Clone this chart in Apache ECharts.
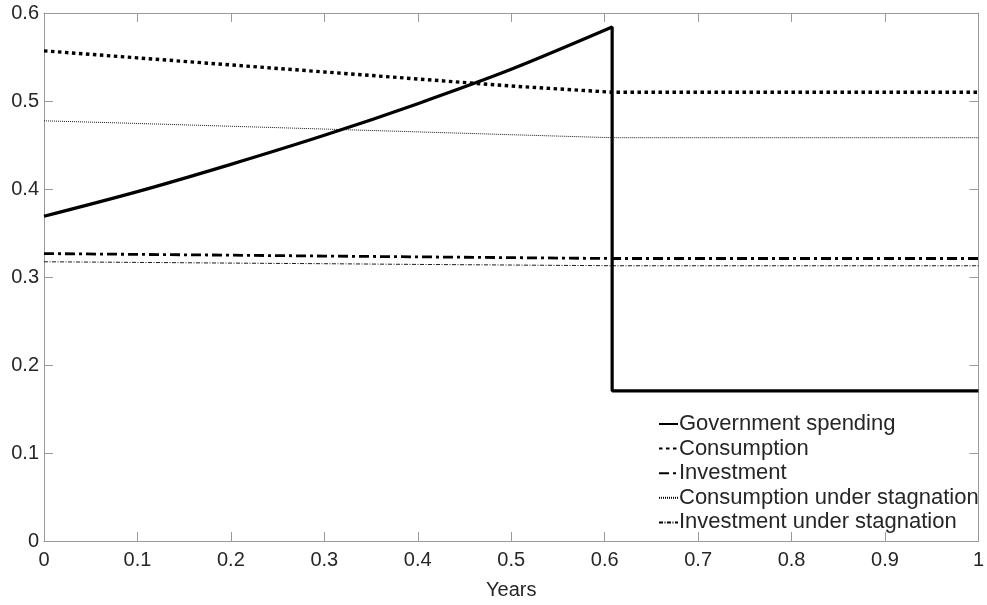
<!DOCTYPE html>
<html><head><meta charset="utf-8">
<script src="https://cdn.jsdelivr.net/npm/echarts@6/dist/echarts.min.js"></script>
<style>html,body{margin:0;padding:0;background:#fff}#c{width:987px;height:605px}</style>
</head><body><div id="c"></div>
<script>
const seriesNames = ['Government spending','Consumption','Investment','Consumption under stagnation','Investment under stagnation'];
const xBefore = [0, 0.1, 0.2, 0.3, 0.4, 0.5, 0.608];
const govBefore = [0.369, 0.397, 0.428, 0.461, 0.497, 0.536, 0.584];
const govAfterX = [0.608, 1];
const govAfter = [0.1706, 0.1706];
const consBefore = [0.557, 0.549, 0.541, 0.533, 0.525, 0.517, 0.510];
const invBefore = [0.3266, 0.3257, 0.3248, 0.3238, 0.3229, 0.3220, 0.3210];
const consStagBefore = [0.4775, 0.4745, 0.4713, 0.4681, 0.4649, 0.4617, 0.4583];
const invStagBefore = [0.3173, 0.3166, 0.3158, 0.3151, 0.3143, 0.3136, 0.3128];
const xEnd = 1;
const xTicks = ['0','0.1','0.2','0.3','0.4','0.5','0.6','0.7','0.8','0.9','1'];
const yTicks = ['0','0.1','0.2','0.3','0.4','0.5','0.6'];

function pairs(xs, ys){ return xs.map((x,i)=>[x, ys[i]]); }
function withFlat(xs, ys){ const d = pairs(xs, ys); d.push([xEnd, ys[ys.length-1]]); return d; }

const govData = pairs(xBefore, govBefore).concat(pairs(govAfterX, govAfter));
const font = 'Liberation Sans, Arial, Helvetica, sans-serif';
const axisCol = '#9a9a9a';
const txtCol = '#262626';

const chart = echarts.init(document.getElementById('c'), null, {renderer:'canvas'});
const baseX = {type:'value', min:0, max:1, interval:0.1};
const baseY = {type:'value', min:0, max:0.6, interval:0.1};
chart.setOption({
  animation:false,
  backgroundColor:'#fff',
  grid:{left:44, right:4, top:13, bottom:61, containLabel:false},
  legend:{
    orient:'vertical', left:653, top:408,
    itemWidth:19, itemHeight:12, itemGap:2.6,
    itemStyle:{opacity:0},
    textStyle:{fontFamily:font, fontSize:22, color:txtCol, padding:[0,0,0,-4]},
    data:seriesNames
  },
  xAxis:[
    Object.assign({}, baseX, {
      position:'bottom', name:'Years', nameLocation:'middle', nameGap:39,
      nameTextStyle:{fontFamily:font, fontSize:20, color:txtCol},
      axisLine:{onZero:false, lineStyle:{color:axisCol, width:1}},
      axisTick:{inside:true, length:9, lineStyle:{color:axisCol}},
      axisLabel:{fontFamily:font, fontSize:20, color:txtCol, margin:9,
        formatter:(v)=>xTicks[Math.round(v*10)]},
      splitLine:{show:false}
    }),
    Object.assign({}, baseX, {
      position:'top',
      axisLine:{onZero:false, lineStyle:{color:axisCol, width:1}},
      axisTick:{inside:true, length:9, lineStyle:{color:axisCol}},
      axisLabel:{show:false}, splitLine:{show:false}
    })
  ],
  yAxis:[
    Object.assign({}, baseY, {
      position:'left',
      axisLine:{show:true, onZero:false, lineStyle:{color:axisCol, width:1}},
      axisTick:{show:true, inside:true, length:9, lineStyle:{color:axisCol}},
      axisLabel:{fontFamily:font, fontSize:20, color:txtCol, margin:5,
        formatter:(v)=>yTicks[Math.round(v*10)]},
      splitLine:{show:false}
    }),
    Object.assign({}, baseY, {
      position:'right',
      axisLine:{show:true, onZero:false, lineStyle:{color:axisCol, width:1}},
      axisTick:{show:true, inside:true, length:9, lineStyle:{color:axisCol}},
      axisLabel:{show:false}, splitLine:{show:false}
    })
  ],
  series:[
    {name:seriesNames[0], type:'line', data:govData, smooth:0.3, symbol:'none', color:'#000',
      lineStyle:{color:'#000', width:3.2, type:'solid'}, z:5},
    {name:seriesNames[1], type:'line', data:withFlat(xBefore, consBefore), smooth:false, symbol:'none', color:'#000',
      lineStyle:{color:'#000', width:3.4, type:[3.5,3.5]}, z:4},
    {name:seriesNames[2], type:'line', data:withFlat(xBefore, invBefore), smooth:false, symbol:'none', color:'#000',
      lineStyle:{color:'#000', width:2.8, type:[10,4,3,4]}, z:4},
    {name:seriesNames[3], type:'line', data:withFlat(xBefore, consStagBefore), smooth:false, symbol:'none', color:'#000',
      lineStyle:{color:'#000', width:0.9, type:[1,1]}, z:3},
    {name:seriesNames[4], type:'line', data:withFlat(xBefore, invStagBefore), smooth:false, symbol:'none', color:'#000',
      lineStyle:{color:'#000', width:0.9, type:[4,1.5,1,1.5]}, z:3}
  ]
});
</script></body></html>
